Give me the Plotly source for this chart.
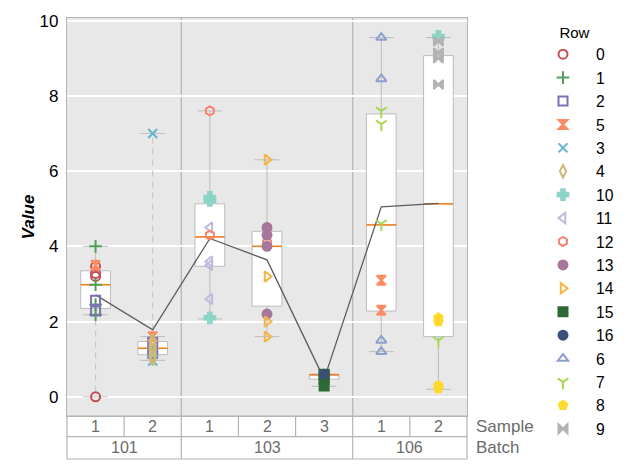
import plotly.graph_objects as go

# ---------------- data ----------------
samples = ["1", "2", "1", "2", "3", "1", "2"]
batches = ["101", "101", "103", "103", "103", "106", "106"]
batch_names = ["101", "103", "106"]

q1 = [2.35, 1.12, 3.47, 2.41, 0.47, 2.28, 1.60]
median = [2.98, 1.29, 4.25, 4.00, 0.59, 4.57, 5.13]
q3 = [3.35, 1.47, 5.13, 4.40, 0.59, 7.52, 9.07]
whisk_lo = [2.18, 0.97, 2.07, 1.60, 0.28, 1.20, 0.20]
whisk_hi = [4.00, 1.60, 7.60, 6.30, 0.60, 9.55, 9.55]
means = [2.71, 1.78, 4.21, 3.64, 0.47, 5.05, 5.14]
outlier_group = [0, 1]
outlier_value = [0.0, 7.0]

row_order = ["0", "1", "2", "5", "3", "4", "10", "11", "12", "13", "14", "15", "16", "6", "7", "8", "9"]
point_row = ["0", "0", "0", "0",
             "1", "1", "1", "1",
             "2", "2", "2", "2",
             "5", "5", "5", "5",
             "3", "3", "3",
             "4", "4", "4", "4", "4",
             "10", "10", "10", "10",
             "11", "11", "11", "11",
             "12", "12", "12", "12",
             "13", "13", "13", "13",
             "14", "14", "14", "14",
             "15", "15", "15", "15",
             "16",
             "6", "6", "6", "6",
             "7", "7", "7", "7",
             "8", "8", "8", "8",
             "9", "9", "9", "9"]
point_group = [0, 0, 0, 0,
               0, 0, 0, 0,
               0, 0, 1, 1,
               0, 1, 5, 5,
               1, 1, 1,
               1, 1, 1, 1, 1,
               2, 2, 2, 6,
               2, 2, 2, 2,
               2, 2, 3, 3,
               3, 3, 3, 3,
               3, 3, 3, 3,
               4, 4, 4, 4,
               4,
               5, 5, 5, 5,
               5, 5, 5, 6,
               6, 6, 6, 6,
               6, 6, 6, 6]
point_value = [0.0, 3.2, 3.28, 3.47,
               4.0, 2.98, 2.45, 2.18,
               2.57, 2.28, 1.45, 1.15,
               3.5, 1.6, 3.1, 2.3,
               7.0, 1.2, 0.95,
               1.5, 1.38, 1.25, 1.1, 1.0,
               5.3, 5.22, 2.1, 9.58,
               4.5, 3.6, 3.5, 2.6,
               7.6, 4.3, 4.5, 4.1,
               4.5, 4.3, 4.0, 2.2,
               6.3, 3.2, 2.0, 1.6,
               0.6, 0.58, 0.46, 0.29,
               0.6,
               9.55, 8.45, 1.5, 1.2,
               7.6, 7.25, 4.6, 1.5,
               2.1, 2.0, 0.3, 0.22,
               9.45, 9.15, 9.0, 8.3]

row_colors = {"0": "#c44e52", "1": "#4f9e5a", "2": "#7d70b4", "5": "#fc8d62", "3": "#64b5cd",
              "4": "#ccb974", "10": "#8dd3c7", "11": "#bebada", "12": "#fb8072", "13": "#a6769c",
              "14": "#f6b443", "15": "#2d6a35", "16": "#3a5078", "6": "#8da0cb", "7": "#a6d854",
              "8": "#ffd92f", "9": "#b3b3b3"}
row_symbols = {"0": "circle-open", "1": "cross-thin-open", "2": "square-open", "5": "hourglass",
               "3": "x-thin-open", "4": "diamond-tall-open", "10": "cross", "11": "triangle-left-open",
               "12": "hexagon-open", "13": "circle", "14": "triangle-right-open", "15": "square",
               "16": "circle", "6": "triangle-up-open", "7": "y-down-open", "8": "pentagon",
               "9": "bowtie"}

# ---------------- style constants ----------------
FONT = "Arial, Liberation Sans, sans-serif"
GRID_BG = "#e8e8e8"
EDGE = "#b4b4b4"
BOX_W = 0.52
CAP_W = 0.22
n = len(samples)
xs = list(range(n))

fig = go.Figure()

# boxes
fig.add_trace(go.Box(
    x=xs, q1=q1, median=median, q3=q3, lowerfence=whisk_lo, upperfence=whisk_hi,
    boxpoints=False, width=BOX_W, whiskerwidth=0.83,
    fillcolor="white", line=dict(color="#bcbcbc", width=1),
    showlegend=False, hoverinfo="skip"))

# dashed lines to far points
dx, dy, cx, cy = [], [], [], []
for g, v in zip(outlier_group, outlier_value):
    start = q1[g] if v < q1[g] else q3[g]
    dx += [g, g, None]
    dy += [start, v, None]
    cx += [g - CAP_W, g + CAP_W, None]
    cy += [v, v, None]
fig.add_trace(go.Scatter(x=dx, y=dy, mode="lines", line=dict(color="#c8c8c8", width=1.2, dash="6px,5px"),
                         showlegend=False, hoverinfo="skip"))
fig.add_trace(go.Scatter(x=cx, y=cy, mode="lines", line=dict(color="#c4c4c4", width=1),
                         showlegend=False, hoverinfo="skip"))

# medians
mx, my = [], []
for i, m in enumerate(median):
    mx += [i - BOX_W / 2, i + BOX_W / 2, None]
    my += [m, m, None]
fig.add_trace(go.Scatter(x=mx, y=my, mode="lines", line=dict(color="#f57f17", width=1.5),
                         showlegend=False, hoverinfo="skip"))

# mean line
fig.add_trace(go.Scatter(x=xs, y=means, mode="lines", line=dict(color="#5e5e5e", width=1.3),
                         showlegend=False, hoverinfo="skip"))

# points by row
for r in row_order:
    px = [g for rr, g in zip(point_row, point_group) if rr == r]
    py = [v for rr, v in zip(point_row, point_value) if rr == r]
    fig.add_trace(go.Scatter(
        x=px, y=py, mode="markers", name=r,
        marker=dict(symbol=row_symbols[r], size=9, color=row_colors[r],
                    line=dict(color=row_colors[r], width=2))))

# hierarchy table under the plot
ROW1_BOT = -0.0518
ROW2_BOT = -0.108
shapes = [
    dict(type="rect", xref="x domain", yref="paper", x0=0, x1=1, y0=ROW2_BOT, y1=0,
         line=dict(color=EDGE, width=1.2), layer="above"),
    dict(type="line", xref="x domain", yref="paper", x0=0, x1=1, y0=ROW1_BOT, y1=ROW1_BOT,
         line=dict(color=EDGE, width=1.2)),
]
annotations = []
for i in range(n - 1):
    if batches[i] != batches[i + 1]:
        shapes.append(dict(type="line", xref="x", yref="paper", x0=i + 0.5, x1=i + 0.5, y0=ROW2_BOT, y1=1,
                           line=dict(color=EDGE, width=1.2), layer="below"))
    else:
        shapes.append(dict(type="line", xref="x", yref="paper", x0=i + 0.5, x1=i + 0.5, y0=ROW1_BOT, y1=0,
                           line=dict(color=EDGE, width=1.2)))
LBL = dict(showarrow=False, yanchor="middle")
for i, s in enumerate(samples):
    annotations.append(dict(x=i, y=ROW1_BOT / 2, xref="x", yref="paper", text=s, xanchor="center",
                            font=dict(family=FONT, size=16, color="#6b6b6b"), **LBL))
for b in batch_names:
    idx = [i for i, bb in enumerate(batches) if bb == b]
    annotations.append(dict(x=sum(idx) / len(idx), y=(ROW1_BOT + ROW2_BOT) / 2, xref="x", yref="paper",
                            text=b, xanchor="center", font=dict(family=FONT, size=16, color="#6b6b6b"), **LBL))
annotations.append(dict(x=1.0175, y=ROW1_BOT / 2, xref="paper", yref="paper", text="Sample",
                        xanchor="left", font=dict(family=FONT, size=17, color="#6b6b6b"), **LBL))
annotations.append(dict(x=1.0175, y=(ROW1_BOT + ROW2_BOT) / 2, xref="paper", yref="paper", text="Batch",
                        xanchor="left", font=dict(family=FONT, size=17, color="#6b6b6b"), **LBL))

fig.update_layout(
    width=632, height=470,
    margin=dict(l=67, r=165, t=16, b=54),
    paper_bgcolor="white", plot_bgcolor=GRID_BG,
    font=dict(family=FONT, color="black"),
    shapes=shapes, annotations=annotations,
    legend=dict(title=dict(text="Row", side="top center", font=dict(family=FONT, size=15)),
                x=1.1575, xanchor="left", y=1.0, yanchor="top", maxheight=470,
                font=dict(family=FONT, size=15.7), itemwidth=56, bgcolor="rgba(0,0,0,0)"),
    xaxis=dict(range=[-0.5, n - 0.5], showgrid=False, zeroline=False, showticklabels=False,
               showline=True, linecolor=EDGE, linewidth=1.2, mirror=True, fixedrange=True),
    yaxis=dict(range=[-0.51, 10.07], tickvals=[0, 2, 4, 6, 8, 10], showgrid=True, gridcolor="white",
               gridwidth=2, zeroline=False, showline=True, linecolor=EDGE, linewidth=1.2, mirror=True,
               tickfont=dict(family=FONT, size=17, color="black"), ticks="", ticklabelstandoff=4,
               title=dict(text="<b><i>Value</i></b>", font=dict(family=FONT, size=17), standoff=0)),
    showlegend=True,
)

fig.write_html("out.html", post_script="document.body.style.margin='0';",
               config={"displayModeBar": False})
